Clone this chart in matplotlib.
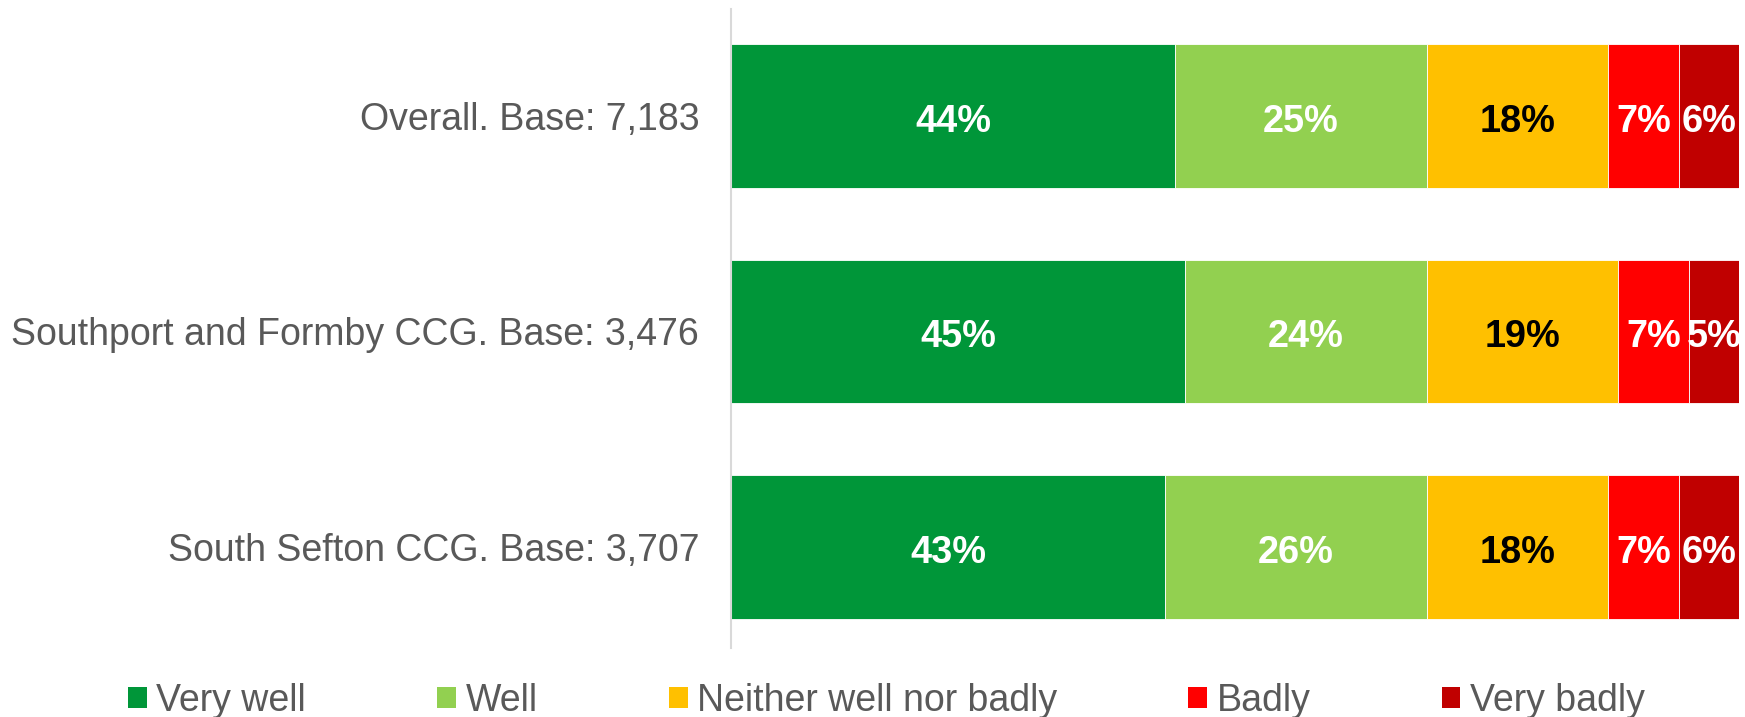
import matplotlib.pyplot as plt
import numpy as np
from matplotlib.patches import Patch

plt.rcParams['font.family'] = ['Liberation Sans', 'DejaVu Sans']

categories = ["Overall. Base: 7,183",
              "Southport and Formby CCG. Base: 3,476",
              "South Sefton CCG. Base: 3,707"]
series = ["Very well", "Well", "Neither well nor badly", "Badly", "Very badly"]
very_well = [44, 45, 43]
well = [25, 24, 26]
neither = [18, 19, 18]
badly = [7, 7, 7]
very_badly = [6, 5, 6]

colors = ["#009639", "#92D050", "#FFC000", "#FF0000", "#C00000"]
text_colors = ["white", "white", "black", "white", "white"]

fig = plt.figure(figsize=(17.45, 7.17), dpi=100)
ax = fig.add_axes([0.419, 0.0962, 0.5778, 0.8912])

values = [very_well, well, neither, badly, very_badly]
y = np.arange(len(categories))
left = np.zeros(len(categories))
for k, vals in enumerate(values):
    vals = np.array(vals, dtype=float)
    ax.barh(y, vals, left=left, height=0.666, color=colors[k],
            edgecolor='white', linewidth=0.6, label=series[k])
    for i, v in enumerate(vals):
        # baseline a bit below the bar centre, like the original
        ax.text(left[i] + v / 2, y[i] + 0.074, f"{int(v)}%", ha='center',
                va='baseline', fontsize=27.3, fontweight='bold',
                color=text_colors[k])
    left += vals

ax.set_xlim(0, 100)
ax.set_ylim(2.47, -0.497)
ax.set_yticks(y)
ax.set_yticklabels(categories, fontsize=27, color='#595959')
ax.tick_params(axis='y', length=0, pad=23)
ax.set_xticks([])
for s in ['top', 'right', 'bottom']:
    ax.spines[s].set_visible(False)
ax.spines['left'].set_color('#D9D9D9')
ax.spines['left'].set_linewidth(1.5)

handles = [Patch(facecolor=c, edgecolor='none') for c in colors]
leg = fig.legend(handles, series, loc='center', bbox_to_anchor=(0.508, 0.023),
                 ncol=5, frameon=False, fontsize=27, handlelength=0.5,
                 handleheight=0.5, handletextpad=0.25, columnspacing=3.5)
for t in leg.get_texts():
    t.set_color('#595959')

fig.savefig("out.png", dpi=100)
